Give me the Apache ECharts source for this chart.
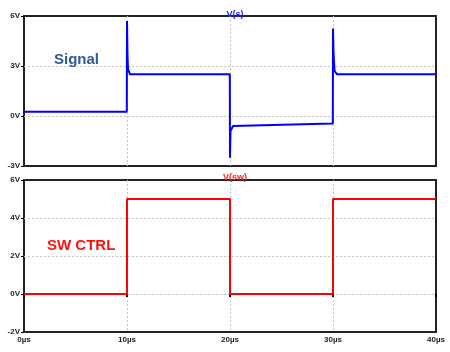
<!DOCTYPE html>
<html>
<head>
<meta charset="utf-8">
<script src="https://cdn.jsdelivr.net/npm/echarts@6/dist/echarts.min.js"></script>
<style>
  html, body { margin: 0; padding: 0; background: #fff; }
  #main { width: 450px; height: 352px; }
</style>
</head>
<body>
<div id="main"></div>
<script>
// V(s) trace, time in µs
const sigTime = [0, 9.98, 10, 10.05, 10.1, 10.3, 19.98, 20, 20.05, 20.3, 29.98, 30, 30.05, 30.15, 30.4, 40];
const sigVolt = [0.25, 0.25, 5.7, 3.6, 2.8, 2.5, 2.5, -2.5, -0.9, -0.6, -0.45, 5.25, 3.8, 2.7, 2.5, 2.5];
// V(sw) trace
const swTime = [0, 10, 10, 20, 20, 30, 30, 40];
const swVolt = [0, 0, 5, 5, 0, 0, 5, 5];

const zip = (xs, ys) => xs.map((x, i) => [x, ys[i]]);

const chart = echarts.init(document.getElementById('main'), null, { renderer: 'canvas' });

const labelFont = { fontSize: 8, fontWeight: 'bold', color: '#222', fontFamily: 'Liberation Sans, Arial' };
const gridLine = { show: true, showMinLine: false, showMaxLine: false,
                   lineStyle: { color: '#c4c4c4', type: [2, 2], width: 1 } };

function xAxisCfg(gridIndex, showLabel) {
    return {
        type: 'value', gridIndex: gridIndex, min: 0, max: 40, interval: 10,
        axisLine: { show: false },
        axisTick: { show: showLabel, length: 3, lineStyle: { color: '#000', width: 2 } },
        axisLabel: Object.assign({ show: showLabel, margin: 4, formatter: v => v + 'µs' }, labelFont),
        splitLine: gridLine
    };
}

function yAxisCfg(gridIndex, min, max, step) {
    return {
        type: 'value', gridIndex: gridIndex, min: min, max: max, interval: step,
        axisLine: { show: false },
        axisTick: { show: true, length: 3, lineStyle: { color: '#000', width: 1 } },
        axisLabel: Object.assign({ margin: 4, formatter: v => v + 'V' }, labelFont),
        splitLine: gridLine
    };
}

const option = {
    backgroundColor: '#fff',
    animation: false,
    title: [
        { text: 'V(s)', left: 230, top: 5, textAlign: 'center',
          textStyle: { fontSize: 9, fontWeight: 'bold', color: '#2020ff', fontFamily: 'Liberation Sans, Arial' } },
        { text: 'V(sw)', left: 230, top: 168, textAlign: 'center',
          textStyle: { fontSize: 9, fontWeight: 'bold', color: '#ff2020', fontFamily: 'Liberation Sans, Arial' } },
        { text: 'Signal', left: 49, top: 47,
          textStyle: { fontSize: 15, fontWeight: 'bold', color: '#2f5a96', fontFamily: 'Liberation Sans, Arial' } },
        { text: 'SW CTRL', left: 42, top: 233,
          textStyle: { fontSize: 15, fontWeight: 'bold', color: '#ff1010', fontFamily: 'Liberation Sans, Arial' } }
    ],
    grid: [
        { left: 24, top: 16, width: 412, height: 150, show: true, borderColor: '#222', borderWidth: 2, backgroundColor: 'transparent' },
        { left: 24, top: 180, width: 412, height: 152, show: true, borderColor: '#222', borderWidth: 2, backgroundColor: 'transparent' }
    ],
    xAxis: [xAxisCfg(0, false), xAxisCfg(1, true)],
    yAxis: [yAxisCfg(0, -3, 6, 3), yAxisCfg(1, -2, 6, 2)],
    series: [
        { name: 'V(s)', type: 'line', xAxisIndex: 0, yAxisIndex: 0, data: zip(sigTime, sigVolt),
          showSymbol: false, lineStyle: { color: '#0000ff', width: 2 }, z: 3 },
        { name: 'V(sw)', type: 'line', xAxisIndex: 1, yAxisIndex: 1, data: zip(swTime, swVolt),
          showSymbol: false, lineStyle: { color: '#ff0000', width: 2 }, z: 3 }
    ]
};

chart.setOption(option);
</script>
</body>
</html>
